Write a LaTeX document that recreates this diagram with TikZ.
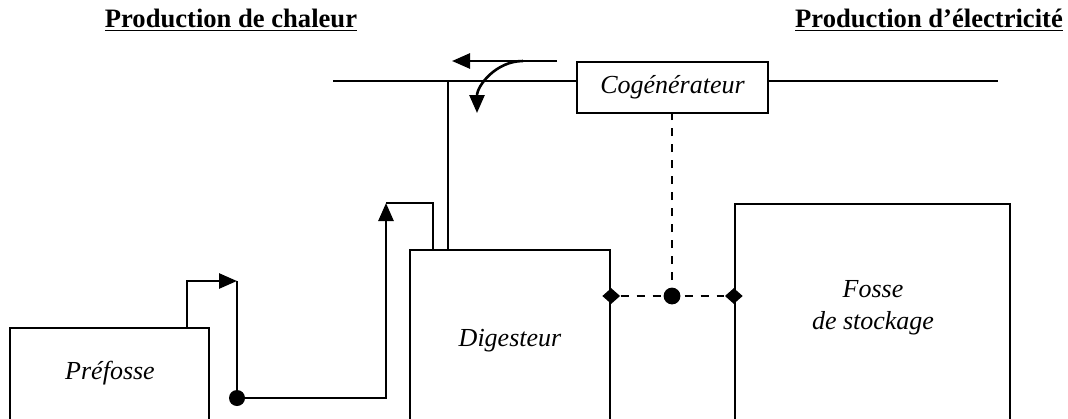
\documentclass[tikz,border=0pt]{standalone}
\usepackage{fontspec}
\setmainfont{Liberation Serif}
\usetikzlibrary{arrows.meta,shapes.geometric}

\begin{document}
\begin{tikzpicture}[x=0.5pt,y=-0.5pt,
    box/.style={draw, line width=1.2pt, inner sep=0pt},
    lbl/.style={font=\fontsize{13}{16}\selectfont\itshape, align=center},
    ttl/.style={font=\fontsize{13.3}{16}\selectfont\bfseries},
    flow/.style={line width=1.3pt},
    fleche/.style={line width=1.3pt, -{Triangle[length=9pt,width=7.5pt]}},
    tirets/.style={line width=1.3pt, dash pattern=on 4pt off 4pt},
    losange/.style={diamond, fill, inner sep=0pt, minimum width=9pt, minimum height=8pt}]
    % Cadre
    \clip (0,0) rectangle (1068,418);

    % Titres
    \node[ttl] (chaleur) at (231,20) {\underline{Production de chaleur}};
    \node[ttl] (elec) at (929,20) {\underline{Production d’électricité}};

    % Blocs
    \node[box, minimum width=99.5pt, minimum height=56pt] (pref) at (109.5,384) {};
    \node[lbl] (preft) at (110,373) {Préfosse};
    \node[box, minimum width=100pt, minimum height=95pt] (dig) at (510,345) {};
    \node[lbl] (digt) at (510,341) {Digesteur};
    \node[box, minimum width=137.5pt, minimum height=118pt] (fosse) at (872.5,322) {};
    \node[lbl] (fosset) at (873,308) {Fosse\\de stockage};
    \node[box, lbl, minimum width=95.5pt, minimum height=25.5pt] (cog) at (672.5,87.5) {Cogénérateur};

    % Ligne de chaleur et ligne electrique
    \coordinate (hl) at (333,81);
    \coordinate (hr) at (998,81);
    \coordinate (t1) at (448,81);
    \draw[flow] (hl) -- (cog.west |- hl);
    \draw[flow] (cog.east |- hr) -- (hr);
    \draw[flow] (t1) -- (t1 |- dig.north);

    % Fleches de chaleur
    \coordinate (a1) at (557,61);
    \coordinate (a2) at (452,61);
    \coordinate (a3) at (523,61);
    \coordinate (a4) at (477,113);
    \draw[fleche] (a1) -- (a2);
    \draw[fleche] (a3) to[out=180, in=90] (a4);

    % Circuit de la prefosse vers le digesteur
    \coordinate (p1) at (187,281);
    \coordinate (v1) at (237,281);
    \coordinate (j1) at (237,398);
    \coordinate (r1) at (386,203);
    \coordinate (r2) at (433,203);
    \draw[fleche] (p1 |- pref.north) |- (v1);
    \draw[flow] (v1) -- (j1);
    \draw[fleche] (j1) -| (r1);
    \draw[flow] (r1) -- (r2) -- (r2 |- dig.north);
    \fill (j1) circle[radius=4pt];

    % Liaison digesteur - fosse - cogenerateur
    \coordinate (jd) at (672,296);
    \node[losange] (dl) at (dig.east |- jd) {};
    \node[losange] (dr) at (fosse.west |- jd) {};
    \draw[tirets] (dl) -- (dr);
    \draw[tirets] (jd) -- (jd |- cog.south);
    \fill (jd) circle[radius=4.2pt];
\end{tikzpicture}
\end{document}
